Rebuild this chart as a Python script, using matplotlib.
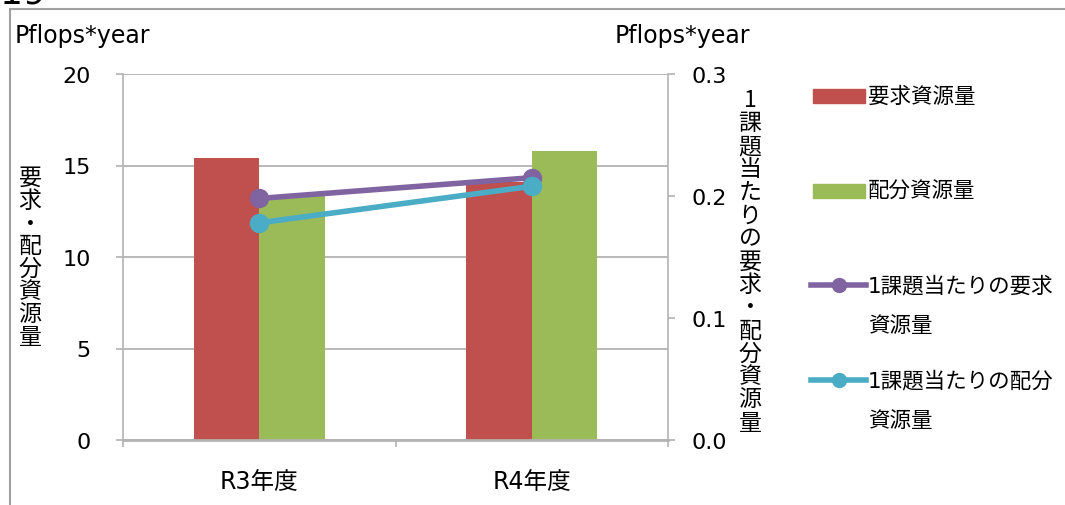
import matplotlib
matplotlib.use("Agg")
import matplotlib.pyplot as plt
import numpy as np
from matplotlib.patches import Rectangle
from matplotlib.lines import Line2D

plt.rcParams['font.family'] = ['DejaVu Sans', 'Noto Sans CJK JP']
CJK = ['Noto Sans CJK JP', 'DejaVu Sans']

categories = ["R3年度", "R4年度"]
requested = [15.4, 14.1]
allocated = [13.4, 15.8]
per_req = [0.198, 0.215]
per_alloc = [0.178, 0.208]
left_ticks = [0, 5, 10, 15, 20]
right_ticks = [0.0, 0.1, 0.2, 0.3]

RED = "#C0504D"
GREEN = "#9BBB59"
PURPLE = "#8064A2"
CYAN = "#4BACC6"
GRID = "#B3B3B3"

fig = plt.figure(figsize=(10.65, 5.06), dpi=100)
W, H = 1065, 506
ax = fig.add_axes([123 / W, 1 - 441 / H, (668 - 123) / W, (441 - 75) / H])
ax2 = ax.twinx()

x = np.arange(len(categories))
bw = 0.24
ax.bar(x - bw / 2, requested, bw, color=RED, zorder=2)
ax.bar(x + bw / 2, allocated, bw, color=GREEN, zorder=2)
ax.set_xlim(-0.5, 1.5)
ax.set_ylim(0, 20)
ax.set_yticks(left_ticks)
ax.set_yticklabels([str(t) for t in left_ticks])
ax.set_xticks(x)
ax.set_xticklabels(categories)
ax.set_xticks([-0.5, 0.5, 1.5], minor=True)
ax.tick_params(axis='x', which='major', length=0, pad=21, labelsize=17)
ax.tick_params(axis='x', which='minor', length=5, color=GRID, width=1.2)
ax.tick_params(axis='y', length=5, color=GRID, width=1.2, labelsize=16, pad=18)
ax.yaxis.grid(True, color=GRID, linewidth=1.3, zorder=0)
ax.set_axisbelow(True)
for s in ['top', 'right']:
    ax.spines[s].set_visible(False)
ax.spines['left'].set_color(GRID)
ax.spines['bottom'].set_color(GRID)
ax.spines['left'].set_linewidth(1.2)
ax.spines['bottom'].set_linewidth(2)

ax2.plot(x, per_req, color=PURPLE, lw=4, marker='o', ms=13, zorder=3)
ax2.plot(x, per_alloc, color=CYAN, lw=4, marker='o', ms=13, zorder=3)
ax2.set_ylim(0, 0.3)
ax2.set_yticks(right_ticks)
ax2.set_yticklabels([f"{t:.1f}" for t in right_ticks])
ax2.tick_params(axis='y', length=5, color=GRID, width=1.2, labelsize=16, pad=12)
for s in ['top', 'left', 'bottom']:
    ax2.spines[s].set_visible(False)
ax2.spines['right'].set_color(GRID)
ax2.spines['right'].set_linewidth(1.2)

# outer frame (extends past right and bottom edges)
fig.patches.append(Rectangle((10 / W, -0.2), 1.2, 1.2 - 10 / H, transform=fig.transFigure,
                             fill=False, edgecolor="#A0A0A0", lw=1.5))
# cut-off title fragment
fig.text(0 / W, 1 - 4 / H, "19", fontsize=26, va='baseline', ha='left', color='black')

fig.text(15 / W, 1 - 36 / H, "Pflops*year", fontsize=17, va='center', ha='left')
fig.text(615 / W, 1 - 36 / H, "Pflops*year", fontsize=17, va='center', ha='left')

fig.text(30 / W, 1 - 258 / H, "\n".join("要求・配分資源量"), fontsize=16.5, family=CJK,
         va='center', ha='center', linespacing=0.98)
fig.text(750 / W, 1 - 262 / H, "\n".join("1課題当たりの要求・配分資源量"), fontsize=16.5,
         family=CJK, va='center', ha='center', linespacing=1.0)

# legend
lx0, lx1, tx = 813 / W, 865 / W, 868 / W
LFS = 15.5
fig.patches.append(Rectangle((lx0, 1 - 104 / H), lx1 - lx0, 14 / H, transform=fig.transFigure,
                             color=RED))
fig.text(tx, 1 - 97 / H, "要求資源量", fontsize=LFS, family=CJK, va='center', ha='left')
fig.patches.append(Rectangle((lx0, 1 - 199 / H), lx1 - lx0, 14 / H, transform=fig.transFigure,
                             color=GREEN))
fig.text(tx, 1 - 192 / H, "配分資源量", fontsize=LFS, family=CJK, va='center', ha='left')
for yy, col, l1 in [(286, PURPLE, "1課題当たりの要求"), (381, CYAN, "1課題当たりの配分")]:
    fig.lines.append(Line2D([811 / W, 866 / W], [1 - yy / H, 1 - yy / H], transform=fig.transFigure,
                            color=col, lw=4, marker=None))
    fig.lines.append(Line2D([838.5 / W], [1 - yy / H], transform=fig.transFigure,
                            color=col, marker='o', ms=10))
    fig.text(tx, 1 - yy / H, l1, fontsize=LFS, va='center', ha='left')
    fig.text(tx, 1 - (yy + 40) / H, "資源量", fontsize=LFS, family=CJK, va='center', ha='left')

fig.savefig("out.png", dpi=100)
